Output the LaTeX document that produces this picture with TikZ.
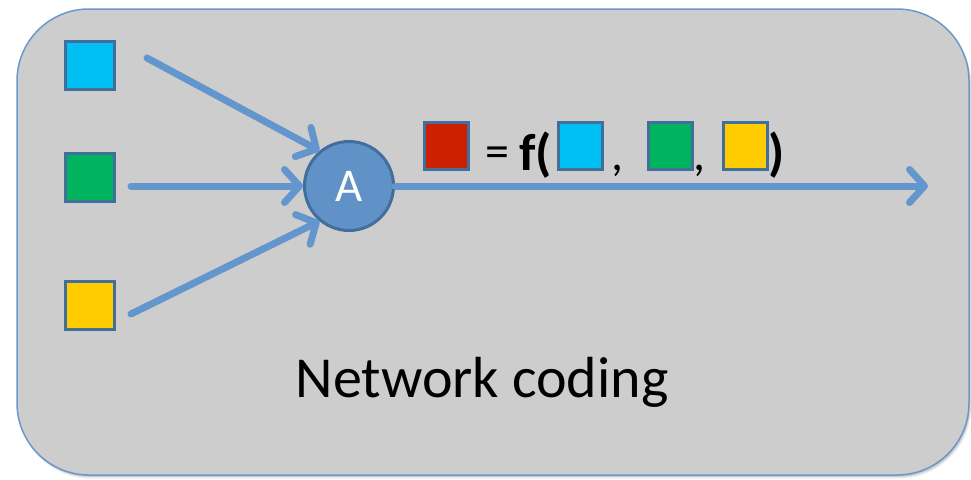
\documentclass[tikz,border=0pt]{standalone}
\usepackage{fontspec}
\setmainfont{Carlito}
\usetikzlibrary{arrows.meta}
\definecolor{panel}{RGB}{205,205,205}
\definecolor{paneledge}{RGB}{108,152,204}
\definecolor{flow}{RGB}{98,150,204}
\definecolor{nodefill}{RGB}{96,146,200}
\definecolor{nodeedge}{RGB}{66,110,155}
\definecolor{pcyan}{RGB}{0,191,243}
\definecolor{pgreen}{RGB}{0,180,95}
\definecolor{pyellow}{RGB}{255,204,0}
\definecolor{pred}{RGB}{204,32,0}
\newcommand{\fsz}[1]{\fontsize{#1}{#1}\selectfont}
\begin{document}
\begin{tikzpicture}[x=1pt,y=-1pt,
  packet/.style={draw=nodeedge, line width=3pt, minimum width=49pt,
    minimum height=48pt, inner sep=0pt},
  fpacket/.style={packet, minimum width=44pt, minimum height=47pt},
  link/.style={draw=flow, line width=7pt, line cap=round,
    -{Straight Barb[length=15pt,width=33pt,round]}},
  router/.style={circle, fill=nodefill, draw=nodeedge, line width=3pt,
    minimum size=89pt, inner sep=0pt, text=white, font=\fsz{47}},
  sym/.style={inner sep=0pt, anchor=base west, text=black}]
  \useasboundingbox (0,0) rectangle (971,479);

  % soft shadow under the panel
  \foreach \k/\o in {6/0.05,4.5/0.07,3/0.09,1.5/0.1}
    \fill[black, opacity=\o, rounded corners=72pt]
      (17+\k*0.3,9+\k*0.6) rectangle (969+\k*0.4,475+\k*0.6);
  % panel
  \draw[paneledge, fill=panel, line width=1.5pt, rounded corners=72pt]
    (17,9) rectangle (969,475);

  % source packets
  \node[packet, fill=pcyan]   (s1) at (90,65)  {};
  \node[packet, fill=pgreen]  (s2) at (90,177) {};
  \node[packet, fill=pyellow] (s3) at (90,305) {};

  % coding node
  \node[router] (A) at (349,186) {A};

  % link start points
  \coordinate (c1) at (147,58);
  \coordinate (c2) at (131,186);
  \coordinate (c3) at (131,314);
  \coordinate (out) at (928,186);

  \draw[link] (c1) -- (A.130);
  \draw[link] (c2) -- (A.west);
  \draw[link] (c3) -- (A.230);
  \draw[link] (A.east) -- (out);

  % coded packet = f(inputs)
  \node[fpacket, fill=pred]    (r)  at (446.5,146) {};
  \node[inner sep=0pt, font=\fsz{48}] (eq) at (497,157) {=};
  \node[sym, font=\fsz{52}\bfseries] (fn) at (519,170) {f(};
  \node[fpacket, fill=pcyan]   (f1) at (580.5,146) {};
  \node[sym, font=\fsz{48}] (k1) at (611,170) {,};
  \node[fpacket, fill=pgreen]  (f2) at (670,146) {};
  \node[sym, font=\fsz{48}] (k2) at (693,170) {,};
  \node[fpacket, fill=pyellow] (f3) at (745,146) {};
  \node[sym, font=\fsz{52}\bfseries] (cp) at (768,170) {)};

  % caption
  \node[inner sep=0pt, anchor=base, font=\fsz{58}] (cap) at (482,397) {Network coding};
\end{tikzpicture}
\end{document}
